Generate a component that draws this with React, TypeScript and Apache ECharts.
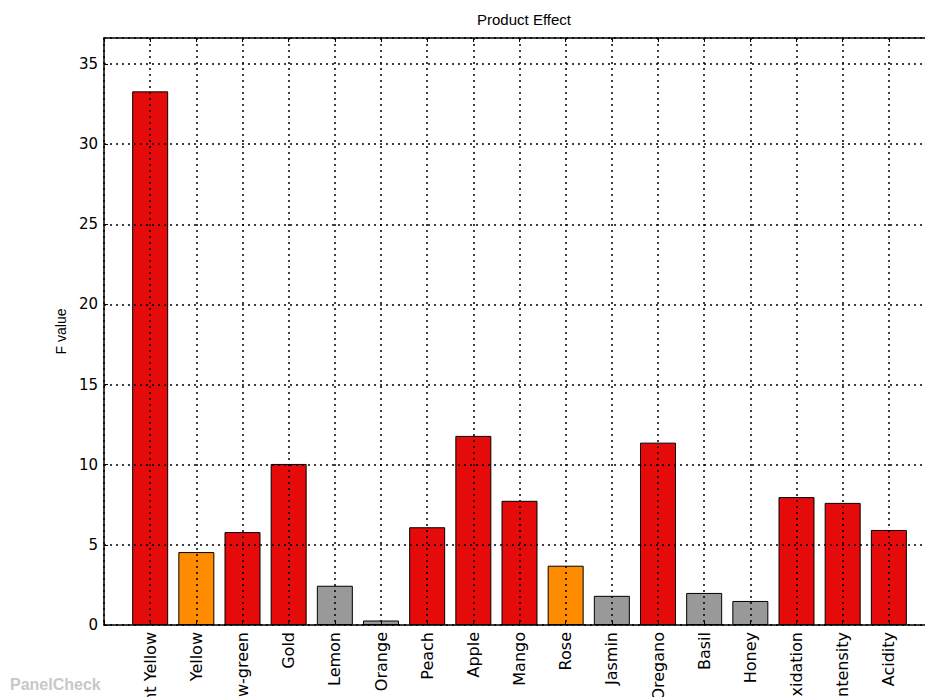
import React, { useEffect, useRef } from "react";
import * as echarts from "echarts";

const categories = [
  "Brilliant Yellow", "Yellow", "Yellow-green", "Gold", "Lemon", "Orange", "Peach", "Apple",
  "Mango", "Rose", "Jasmin", "Oregano", "Basil", "Honey", "Oxidation", "Intensity", "Acidity",
];
const fValues = [33.3, 4.55, 5.8, 10.05, 2.45, 0.28, 6.1, 11.8, 7.75, 3.7, 1.82, 11.38, 2.0, 1.5, 7.98, 7.62, 5.93];
// significance level per attribute: "p1" = red, "p5" = orange, "ns" = gray
const significance = ["p1", "p5", "p1", "p1", "ns", "ns", "p1", "p1", "p1", "p5", "ns", "p1", "ns", "ns", "p1", "p1", "p1"];
const sigColors: Record<string, string> = { p1: "#e60b0b", p5: "#ff8c00", ns: "#999999" };
const yTickInterval = 5;
const yMax = 36.63;

export default function App() {
  const ref = useRef<HTMLDivElement>(null);
  useEffect(() => {
    if (!ref.current) return;
    const chart = echarts.init(ref.current, null, { renderer: "svg" });
    const gridLine = { show: true, lineStyle: { color: "#000", type: [2, 4] as any, width: 1.5 } };
    chart.setOption({
      animation: false,
      backgroundColor: "#fff",
      title: {
        text: "Product Effect",
        left: 519,
        textAlign: "center",
        top: 7,
        textStyle: { fontFamily: "Liberation Sans", fontSize: 15, fontWeight: "normal", color: "#000" },
      },
      graphic: [
        {
          type: "text",
          left: 10,
          top: 676,
          style: { text: "PanelCheck", fontFamily: "Liberation Sans", fontWeight: "bold", fontSize: 16, fill: "#c8c8c8" },
        },
      ],
      grid: { left: 104, top: 38, bottom: 72, right: -10, containLabel: false, outerBoundsMode: "none" },
      xAxis: [
        {
          type: "value",
          min: -1,
          max: categories.length,
          interval: 1,
          z: 5,
          axisLine: { show: true, onZero: false, lineStyle: { color: "#000", width: 1.5 } },
          axisTick: { show: true, inside: true, length: 4, lineStyle: { color: "#000" } },
          splitLine: gridLine,
          axisLabel: {
            rotate: 90,
            margin: 7,
            fontFamily: "DejaVu Sans",
            fontSize: 16,
            color: "#000",
            formatter: (v: number) => categories[v] ?? "",
          },
        },
        {
          type: "value",
          position: "top",
          min: -1,
          max: categories.length,
          interval: 1,
          z: 5,
          axisLine: { show: true, onZero: false, lineStyle: { color: "#000", width: 1.5 } },
          axisTick: { show: true, inside: true, length: 4, lineStyle: { color: "#000" } },
          splitLine: { show: false },
          axisLabel: { show: false },
        },
      ],
      yAxis: {
        type: "value",
        min: 0,
        max: yMax,
        interval: yTickInterval,
        z: 5,
        name: "F value",
        nameLocation: "middle",
        nameGap: 28,
        nameTextStyle: { fontFamily: "Liberation Sans", fontSize: 14, color: "#000" },
        axisLine: { show: true, onZero: false, lineStyle: { color: "#000", width: 1.5 } },
        axisTick: { show: true, inside: true, length: 4, lineStyle: { color: "#000" } },
        splitLine: gridLine,
        axisLabel: { showMaxLabel: false, margin: 6, fontFamily: "DejaVu Sans", fontSize: 15, color: "#000" },
      },
      series: [
        {
          type: "bar",
          xAxisIndex: 0,
          barWidth: 36,
          z: 2,
          data: fValues.map((v, i) => ({
            value: [i, v],
            itemStyle: { color: sigColors[significance[i]], borderColor: "#000", borderWidth: 1 },
          })),
        },
      ],
    });
    return () => chart.dispose();
  }, []);
  return <div ref={ref} style={{ position: "fixed", left: 0, top: 0, width: 925, height: 697 }} />;
}
